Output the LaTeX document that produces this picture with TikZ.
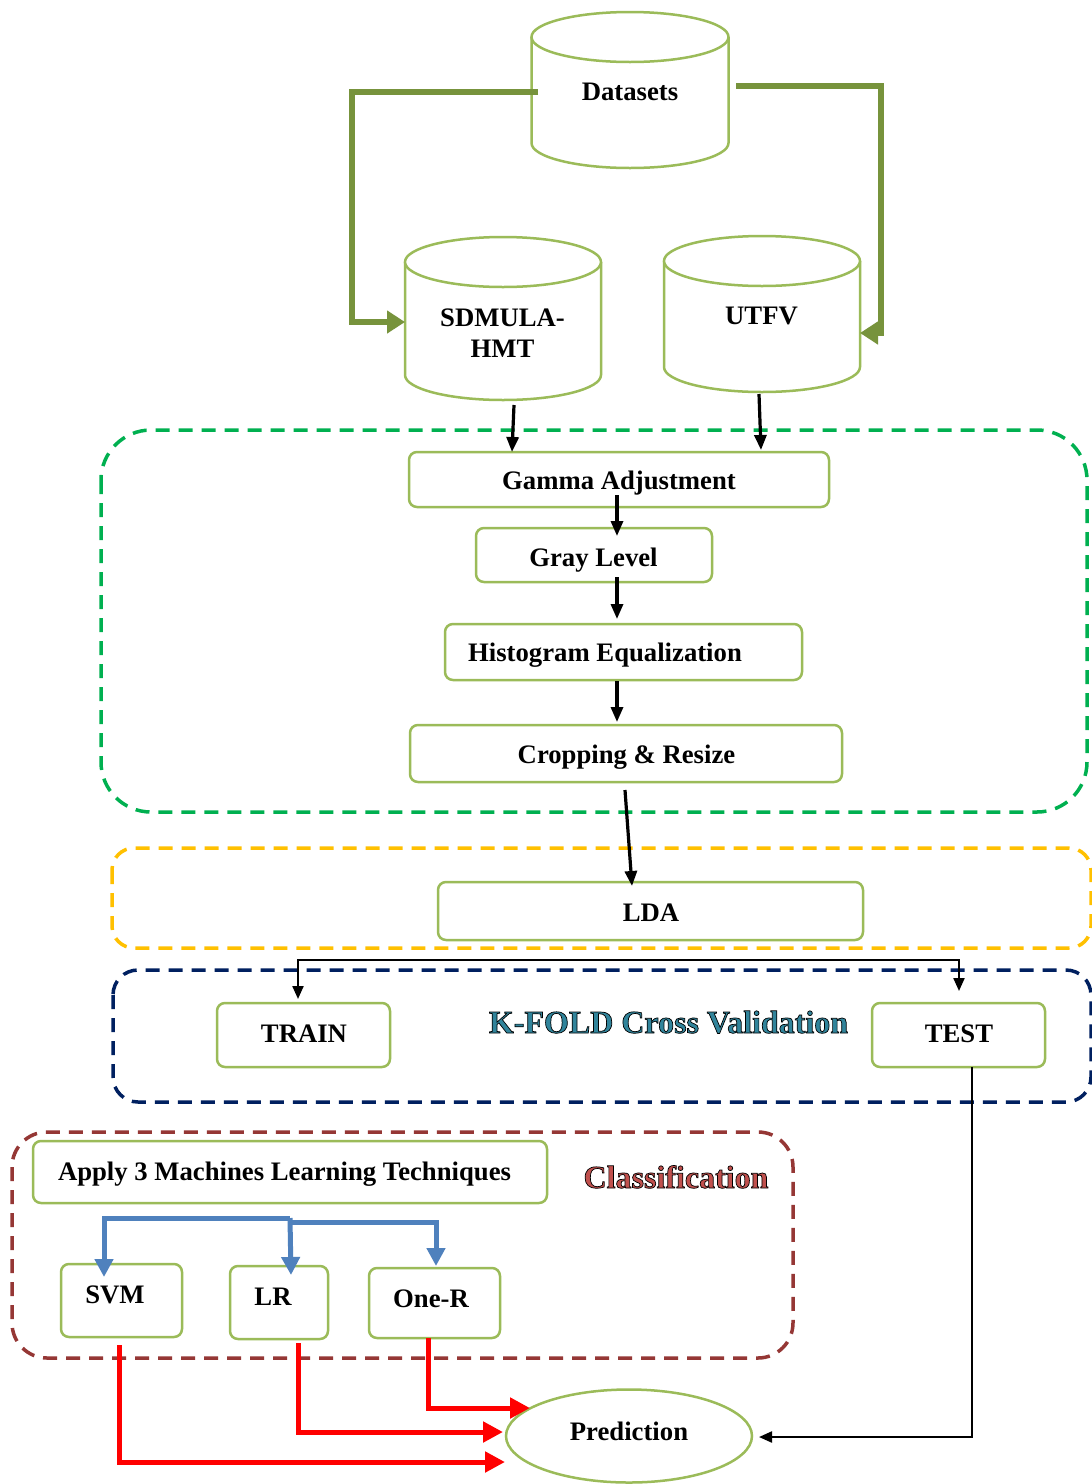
\documentclass[tikz,border=0pt]{standalone}
\usepackage{fontspec}
\setmainfont{Liberation Serif}
\usetikzlibrary{arrows.meta,shapes.geometric}
\definecolor{og}{HTML}{77933C}
\definecolor{lg}{HTML}{9BBB59}
\definecolor{dg}{HTML}{00B050}
\definecolor{yl}{HTML}{FFC000}
\definecolor{nv}{HTML}{002060}
\definecolor{brn}{HTML}{953735}
\definecolor{tl}{HTML}{31849B}
\definecolor{rdc}{HTML}{C0504D}
\definecolor{blu}{HTML}{4F81BD}
\newcommand\outlinetext[1]{\special{pdf:literal direct 2 Tr 0.7 w 0 0 0 RG}#1\special{pdf:literal direct 0 Tr}}
\begin{document}
\begin{tikzpicture}[x=1pt,y=-1pt,
  box/.style={draw=lg, line width=2.5pt, rounded corners=8pt, fill=white, inner sep=0pt},
  lbl/.style={font=\fontsize{26.7}{30}\selectfont\bfseries, inner sep=0pt, anchor=base},
  biglbl/.style={font=\fontsize{32}{36}\selectfont\bfseries, inner sep=0pt, anchor=base},
  cylline/.style={draw=lg, line width=2.5pt},
  grp/.style={line width=3.5pt, dash pattern=on 14pt off 9pt},
  blk/.style={line width=3.2pt, -{Triangle[length=15pt,width=12pt]}},
  thinblk/.style={line width=2.2pt, -{Triangle[length=13pt,width=11pt]}},
  grn/.style={draw=og, line width=6pt, line join=miter, -{Triangle[length=18pt,width=22pt]}},
  redarr/.style={draw=red, line width=5pt, line join=miter, -{Triangle[length=20pt,width=20pt]}},
  bluarr/.style={draw=blu, line width=5pt, line join=miter, -{Triangle[length=18pt,width=18pt]}}]
\clip (0,0) rectangle (1092,1484);
\fill[white] (0,0) rectangle (1092,1484);

% ---------- cylinders ----------
\fill[white] (531.5,37) rectangle (728.5,143);
\fill[white] (630,143) ellipse [x radius=98.5pt, y radius=25pt];
\draw[cylline] (531.5,37) -- (531.5,143) arc[start angle=180, end angle=360, x radius=98.5pt, y radius=25pt] -- (728.5,37);
\filldraw[cylline, fill=white] (630,37) ellipse [x radius=98.5pt, y radius=25pt];
\fill[white] (405,262) rectangle (601,375);
\fill[white] (503,375) ellipse [x radius=98pt, y radius=25pt];
\draw[cylline] (405,262) -- (405,375) arc[start angle=180, end angle=360, x radius=98pt, y radius=25pt] -- (601,262);
\filldraw[cylline, fill=white] (503,262) ellipse [x radius=98pt, y radius=25pt];
\fill[white] (664,261) rectangle (860,367);
\fill[white] (762,367) ellipse [x radius=98pt, y radius=25pt];
\draw[cylline] (664,261) -- (664,367) arc[start angle=180, end angle=360, x radius=98pt, y radius=25pt] -- (860,261);
\filldraw[cylline, fill=white] (762,261) ellipse [x radius=98pt, y radius=25pt];

\node[lbl] (ds) at (630,100) {Datasets};
\node[lbl] (sd) at (502.5,326) {SDMULA-};
\node[lbl] (sd2) at (502.5,357) {HMT};
\node[lbl] (ut) at (761.5,324) {UTFV};

\coordinate (dsL) at (538,92);
\coordinate (dsR) at (736,86);
\coordinate (sdIn) at (405,322);
\coordinate (utIn) at (860,333);
\coordinate (sdOut) at (514,405);
\coordinate (utOut) at (759,394);

\draw[grn] (dsL) -- (352,92) |- (sdIn);
\draw[grn] (dsR) -- (881,86) |- (utIn);

% ---------- groups ----------
\draw[grp, draw=dg, rounded corners=50pt] (101,430) rectangle (1087,812);
\draw[grp, draw=yl, rounded corners=22pt] (112,848) rectangle (1091,948);
\draw[grp, draw=nv, rounded corners=25pt] (113,970) rectangle (1091,1102);
\draw[grp, draw=brn, rounded corners=35pt] (12,1132) rectangle (793,1358);

% ---------- preprocessing boxes ----------
\node[box, minimum width=420pt, minimum height=55pt] (gam) at (619,479.5) {};
\node[box, minimum width=236pt, minimum height=54pt] (gray) at (594,555) {};
\node[box, minimum width=357pt, minimum height=56pt] (hist) at (623.5,652) {};
\node[box, minimum width=432pt, minimum height=57pt] (crop) at (626,753.5) {};
\node[lbl] (gamT) at (619,489) {Gamma Adjustment};
\node[lbl] (grayT) at (593.5,566) {Gray Level};
\node[lbl] (histT) at (605,661) {Histogram Equalization};
\node[lbl] (cropT) at (626.5,763) {Cropping \& Resize};

\coordinate (gamIn1) at (512,452);
\coordinate (gamIn2) at (761,450);
\draw[blk] (sdOut) -- (gamIn1);
\draw[blk] (utOut) -- (gamIn2);
\draw[blk] (617,495) -- (617,536);
\draw[blk] (617,577) -- (617,619);
\draw[blk] (617,681) -- (617,722);

% ---------- LDA ----------
\node[box, minimum width=425pt, minimum height=58pt] (lda) at (650.5,911) {};
\node[lbl] (ldaT) at (651,921) {LDA};
\coordinate (cropOut) at (625,790);
\coordinate (ldaIn) at (632,886);
\draw[blk] (cropOut) -- (ldaIn);

% ---------- K-fold ----------
\node[box, minimum width=173pt, minimum height=64pt] (train) at (303.5,1035) {};
\node[box, minimum width=173pt, minimum height=64pt] (test) at (958.5,1035) {};
\node[lbl] (trainT) at (304,1042) {TRAIN};
\node[lbl] (testT) at (959,1042) {TEST};
\node[biglbl, text=tl] (kf) at (668.5,1033) {\outlinetext{K-FOLD Cross Validation}};
\coordinate (brk) at (628,960);
\coordinate (trainIn) at (298,999);
\coordinate (testIn) at (959,991);
\draw[thinblk] (brk) -| (trainIn);
\draw[thinblk] (brk) -| (testIn);

% ---------- classification ----------
\node[box, minimum width=514pt, minimum height=62pt] (apply) at (290,1172) {};
\node[lbl] (applyT) at (284.5,1180) {Apply 3 Machines Learning Techniques};
\node[biglbl, text=rdc] (cls) at (676,1188) {\outlinetext{Classification}};
\node[box, minimum width=121pt, minimum height=73pt] (svm) at (121.5,1300.5) {};
\node[box, minimum width=98pt, minimum height=73pt] (lr) at (279,1302.5) {};
\node[box, minimum width=131pt, minimum height=70pt] (oner) at (434.5,1303) {};
\node[lbl] (svmT) at (115,1303) {SVM};
\node[lbl] (lrT) at (273,1305) {LR};
\node[lbl] (onerT) at (431,1307) {One-R};

\coordinate (b1) at (290,1218);
\coordinate (b2) at (288,1222);
\coordinate (svmIn) at (104,1277);
\coordinate (lrIn) at (291,1275);
\coordinate (onerIn) at (436,1266);
\draw[bluarr] (b1) -| (svmIn);
\draw[bluarr] (b1) -- (lrIn);
\draw[bluarr] (b2) -| (onerIn);

% ---------- prediction ----------
\node[ellipse, draw=lg, line width=2.5pt, minimum width=246pt, minimum height=93pt, fill=white, inner sep=0pt] (pred) at (629,1436) {};
\node[lbl] (predT) at (629,1440) {Prediction};

\coordinate (svmOut) at (119,1345);
\coordinate (lrOut) at (298,1343);
\coordinate (onerOut) at (428,1338);
\coordinate (pIn1) at (505,1462);
\coordinate (pIn2) at (503,1432);
\coordinate (pIn3) at (530,1408);
\draw[redarr] (svmOut) |- (pIn1);
\draw[redarr] (lrOut) |- (pIn2);
\draw[redarr] (onerOut) |- (pIn3);

\coordinate (testOut) at (972,1067);
\coordinate (pIn4) at (759,1437);
\draw[thinblk] (testOut) |- (pIn4);
\end{tikzpicture}
\end{document}
